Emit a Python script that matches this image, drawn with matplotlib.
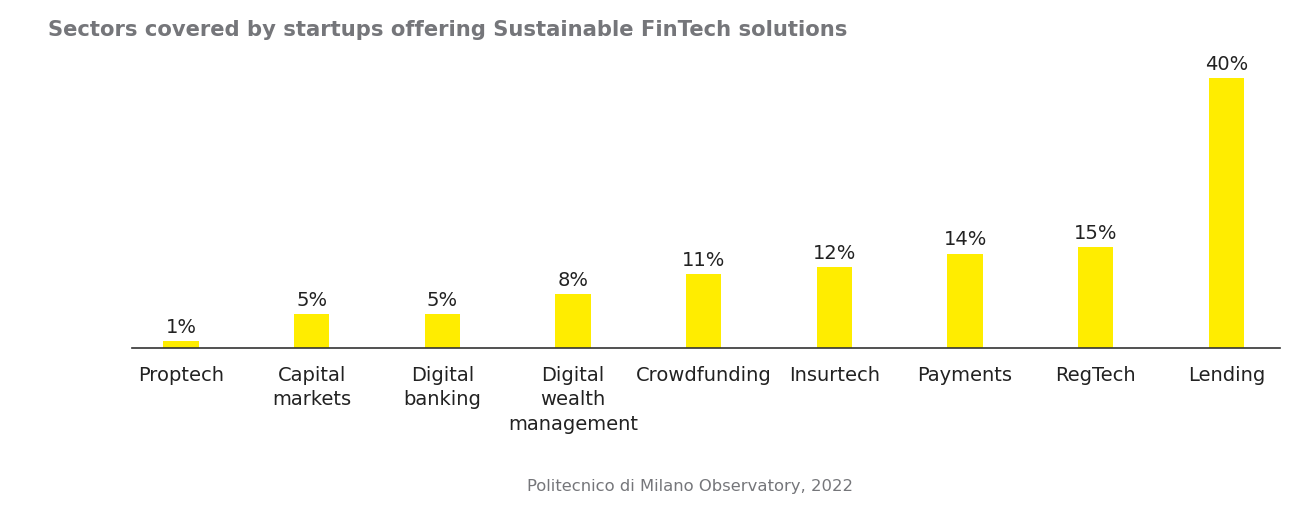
import matplotlib.pyplot as plt

sectors = ["Proptech", "Capital\nmarkets", "Digital\nbanking", "Digital\nwealth\nmanagement",
           "Crowdfunding", "Insurtech", "Payments", "RegTech", "Lending"]
shares = [1, 5, 5, 8, 11, 12, 14, 15, 40]

fig = plt.figure(figsize=(13.12, 5.2), dpi=100)
ax = fig.add_axes([132 / 1312, 1 - 348 / 520, 1148 / 1312, 303.75 / 520])

x = range(len(sectors))
ax.bar(x, shares, width=0.27, color="#FFED00")
for xi, v in zip(x, shares):
    ax.text(xi, v + 0.6, f"{v}%", ha="center", va="bottom", fontsize=14, color="#222222")

ax.set_xlim(-0.375, 8.41)
ax.set_ylim(0, 45)
ax.set_xticks(list(x))
ax.set_xticklabels(sectors, fontsize=14, color="#222222", linespacing=1.35)
ax.tick_params(axis="x", length=0, pad=13)
ax.set_yticks([])
ax.spines[["left", "right", "top"]].set_visible(False)
ax.spines["bottom"].set_color("#333333")
ax.spines["bottom"].set_linewidth(1.2)

fig.text(48 / 1312, 1 - 30 / 520, "Sectors covered by startups offering Sustainable FinTech solutions",
         fontsize=15.2, fontweight="bold", color="#75767a", va="center", ha="left")
fig.text(690 / 1312, 1 - 487 / 520, "Politecnico di Milano Observatory, 2022",
         fontsize=11.8, color="#75767a", va="center", ha="center")

fig.savefig("out.png", dpi=100)
